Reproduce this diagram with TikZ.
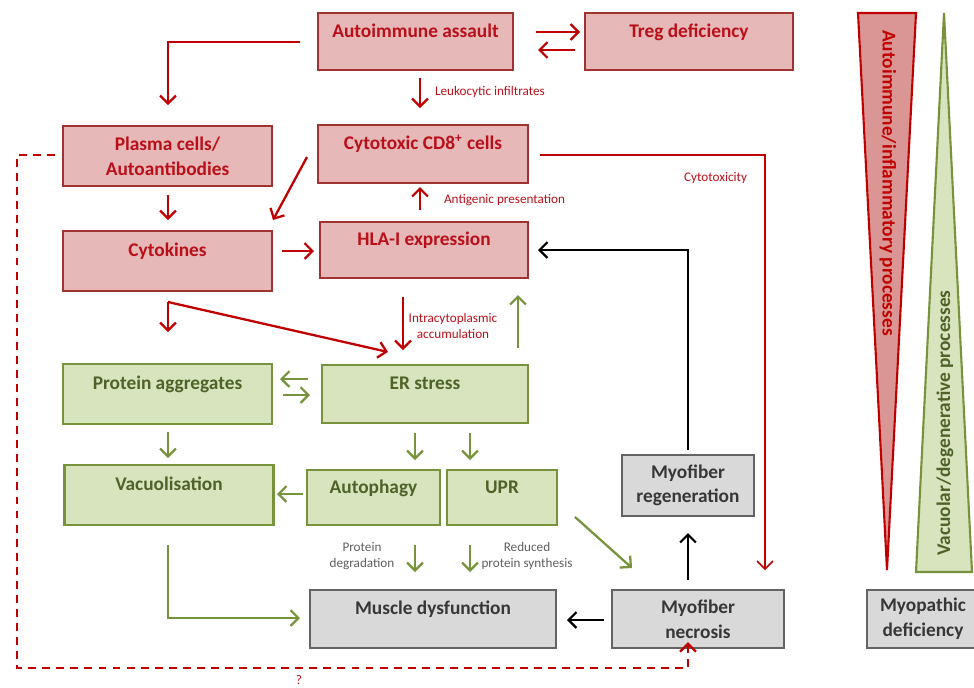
\documentclass[tikz,border=0pt]{standalone}
\usepackage{fontspec}
\setmainfont{Carlito}
\usetikzlibrary{arrows.meta}
\definecolor{myo_redfill}{RGB}{230,184,183}
\definecolor{myo_redline}{RGB}{160,50,50}
\definecolor{myo_redtext}{RGB}{185,15,25}
\definecolor{myo_red}{RGB}{192,0,0}
\definecolor{myo_redwedge}{RGB}{218,150,148}
\definecolor{myo_greenfill}{RGB}{215,228,189}
\definecolor{myo_green}{RGB}{119,147,60}
\definecolor{myo_greentext}{RGB}{79,98,40}
\definecolor{myo_grayfill}{RGB}{217,217,217}
\definecolor{myo_grayline}{RGB}{100,100,100}
\definecolor{myo_graytext}{RGB}{55,55,55}
\definecolor{myo_labgray}{RGB}{95,95,95}
\tikzstyle{box}=[rectangle,line width=1.4pt,align=center,inner sep=2pt,
  minimum width=4.18cm,minimum height=1.2cm,font=\fontsize{11}{14}\selectfont\bfseries]
\tikzstyle{rb}=[box,fill=myo_redfill,draw=myo_redline,text=myo_redtext]
\tikzstyle{gb}=[box,fill=myo_greenfill,draw=myo_green,text=myo_greentext]
\tikzstyle{yb}=[box,fill=myo_grayfill,draw=myo_grayline,text=myo_graytext]
\tikzstyle{onel}=[text height=7.5pt,text depth=12.5pt]
\tikzstyle{none}=[inner sep=0pt,minimum size=0pt]
\tikzstyle{lab}=[font=\fontsize{7.5}{9}\selectfont,align=center,inner sep=1pt,text=myo_redtext]
\tikzstyle{ra}=[draw=myo_red,line width=1.3pt,-{Straight Barb[length=4.5pt,width=9pt]}]
\tikzstyle{ga}=[draw=myo_green,line width=1.3pt,-{Straight Barb[length=4.5pt,width=9pt]}]
\tikzstyle{ba}=[draw=black,line width=1.3pt,-{Straight Barb[length=4.5pt,width=9pt]}]

\begin{document}
\begin{tikzpicture}[x=0.02cm, y=-0.02cm]
            \useasboundingbox (0,0) rectangle (974,687);
            % boxes
            \node [style=rb,onel,minimum width=3.9cm,minimum height=1.14cm] (aa) at (415.5,41.5) {Autoimmune assault};
            \node [style=rb,onel,minimum width=4.16cm,minimum height=1.14cm] (tr) at (689,41.5) {Treg deficiency};
            \node [style=rb] (pc) at (167.5,156) {Plasma cells/\\Autoantibodies};
            \node [style=rb,onel,minimum width=4.2cm,minimum height=1.16cm] (cd) at (423,154) {Cytotoxic CD8\textsuperscript{+} cells};
            \node [style=rb,onel] (ck) at (167.5,261) {Cytokines};
            \node [style=rb,onel,minimum width=4.16cm,minimum height=1.12cm] (hl) at (424,250) {HLA-I expression};
            \node [style=gb,onel] (pa) at (167.5,394) {Protein aggregates};
            \node [style=gb,onel,minimum width=4.12cm,minimum height=1.16cm] (er) at (425,394) {ER stress};
            \node [style=gb,onel] (va) at (169,495) {Vacuolisation};
            \node [style=gb,onel,minimum width=2.66cm,minimum height=1.1cm] (au) at (373.5,497.5) {Autophagy};
            \node [style=gb,onel,minimum width=2.2cm,minimum height=1.1cm] (up) at (502,497.5) {UPR};
            \node [style=yb,onel,minimum width=4.92cm,minimum height=1.16cm] (md) at (433,619) {Muscle dysfunction};
            \node [style=yb,minimum width=3.44cm,minimum height=1.16cm] (mn) at (698,619) {Myofiber\\necrosis};
            \node [style=yb,minimum width=2.64cm,minimum height=1.22cm] (mr) at (688,485.5) {Myofiber\\regeneration};
            \node [style=yb,minimum width=2.24cm,minimum height=1.16cm] (mp) at (923,619) {Myopathic\\deficiency};
            % wedges
            \draw [fill=myo_redwedge,draw=myo_red,line width=1.2pt] (858,13) -- (916,13) -- (887,570) -- cycle;
            \draw [fill=myo_greenfill,draw=myo_green,line width=1.2pt] (944,13) -- (972,572) -- (916,572) -- cycle;
            \node [rotate=-90,text=myo_red,font=\fontsize{11}{14}\selectfont\bfseries] (wr) at (888,183) {Autoimmune/inflammatory processes};
            \node [rotate=90,text=myo_greentext,font=\fontsize{11}{14}\selectfont\bfseries] (wg) at (945,423) {Vacuolar/degenerative processes};
            % arrow ends
            \node [style=none] (1) at (536,32) {};
            \node [style=none] (2) at (580,32) {};
            \node [style=none] (3) at (575,50) {};
            \node [style=none] (4) at (538,50) {};
            \node [style=none] (5) at (300,42) {};
            \node [style=none] (6) at (168,42) {};
            \node [style=none] (7) at (168,105) {};
            \node [style=none] (8) at (420,78) {};
            \node [style=none] (9) at (420,108) {};
            \node [style=none] (10) at (168,195) {};
            \node [style=none] (11) at (168,220) {};
            \node [style=none] (12) at (307,157) {};
            \node [style=none] (13) at (273,220) {};
            \node [style=none] (14) at (282,251) {};
            \node [style=none] (15) at (314,251) {};
            \node [style=none] (16) at (420,210) {};
            \node [style=none] (17) at (420,187) {};
            \node [style=none] (18) at (540,155) {};
            \node [style=none] (19) at (765,155) {};
            \node [style=none] (20) at (765,570) {};
            \node [style=none] (21) at (168,302) {};
            \node [style=none] (22) at (168,332) {};
            \node [style=none] (23) at (388,352) {};
            \node [style=none] (24) at (403,297) {};
            \node [style=none] (25) at (403,350) {};
            \node [style=none] (26) at (518,348) {};
            \node [style=none] (27) at (518,295) {};
            \node [style=none] (28) at (688,450) {};
            \node [style=none] (29) at (688,250) {};
            \node [style=none] (30) at (538,250) {};
            \node [style=none] (31) at (308,379) {};
            \node [style=none] (32) at (280,379) {};
            \node [style=none] (33) at (283,395) {};
            \node [style=none] (34) at (310,395) {};
            \node [style=none] (35) at (168,432) {};
            \node [style=none] (36) at (168,458) {};
            \node [style=none] (37) at (415,433) {};
            \node [style=none] (38) at (415,460) {};
            \node [style=none] (39) at (470,433) {};
            \node [style=none] (40) at (470,460) {};
            \node [style=none] (41) at (303,494) {};
            \node [style=none] (42) at (277,494) {};
            \node [style=none] (43) at (415,545) {};
            \node [style=none] (44) at (415,572) {};
            \node [style=none] (45) at (470,545) {};
            \node [style=none] (46) at (470,572) {};
            \node [style=none] (47) at (575,517) {};
            \node [style=none] (48) at (632,568) {};
            \node [style=none] (49) at (168,545) {};
            \node [style=none] (50) at (168,618) {};
            \node [style=none] (51) at (300,618) {};
            \node [style=none] (52) at (604,620) {};
            \node [style=none] (53) at (567,620) {};
            \node [style=none] (54) at (688,580) {};
            \node [style=none] (55) at (688,533) {};
            \node [style=none] (56) at (55,155) {};
            \node [style=none] (57) at (17,155) {};
            \node [style=none] (58) at (17,668) {};
            \node [style=none] (59) at (688,668) {};
            \node [style=none] (60) at (688,642) {};
            % labels
            \node [style=lab,anchor=west] (l1) at (433,92) {Leukocytic infiltrates};
            \node [style=lab,anchor=west] (l2) at (442,200) {Antigenic presentation};
            \node [style=lab,anchor=west] (l3) at (682,178) {Cytotoxicity};
            \node [style=lab] (l4) at (453,326) {Intracytoplasmic\\accumulation};
            \node [style=lab,text=myo_labgray] (l5) at (362,556) {Protein\\degradation};
            \node [style=lab,text=myo_labgray] (l6) at (527,556) {Reduced\\protein synthesis};
            \node [style=lab] (l7) at (299,680) {?};
            % connectors
            \draw [style=ra] (1.center) to (2.center);
            \draw [style=ra] (3.center) to (4.center);
            \draw [style=ra] (5.center) -- (6.center) -- (7.center);
            \draw [style=ra] (8.center) to (9.center);
            \draw [style=ra] (10.center) to (11.center);
            \draw [style=ra] (12.center) to (13.center);
            \draw [style=ra] (14.center) to (15.center);
            \draw [style=ra] (16.center) to (17.center);
            \draw [style=ra,line width=0.9pt] (18.center) -- (19.center) -- (20.center);
            \draw [style=ra] (21.center) to (22.center);
            \draw [style=ra] (21.center) to (23.center);
            \draw [style=ra] (24.center) to (25.center);
            \draw [style=ga] (26.center) to (27.center);
            \draw [style=ba] (28.center) -- (29.center) -- (30.center);
            \draw [style=ga] (31.center) to (32.center);
            \draw [style=ga] (33.center) to (34.center);
            \draw [style=ga] (35.center) to (36.center);
            \draw [style=ga] (37.center) to (38.center);
            \draw [style=ga] (39.center) to (40.center);
            \draw [style=ga] (41.center) to (42.center);
            \draw [style=ga] (43.center) to (44.center);
            \draw [style=ga] (45.center) to (46.center);
            \draw [style=ga] (47.center) to (48.center);
            \draw [style=ga] (49.center) -- (50.center) -- (51.center);
            \draw [style=ba] (52.center) to (53.center);
            \draw [style=ba] (54.center) to (55.center);
            \draw [style=ra,line width=1.4pt,dash pattern=on 4.5pt off 3.5pt] (56.center) -- (57.center) -- (58.center) -- (59.center) -- (60.center);
    \end{tikzpicture}
\end{document}
